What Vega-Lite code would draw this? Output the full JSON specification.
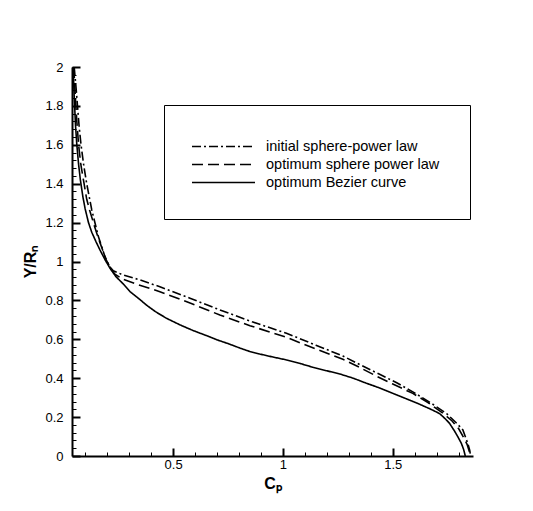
{
  "$schema": "https://vega.github.io/schema/vega-lite/v6.json",
  "autosize": {"type": "none"},
  "padding": {"left": 72, "top": 67, "right": 60, "bottom": 55},
  "width": 401,
  "height": 389,
  "background": "white",
  "config": {
    "view": {"stroke": null},
    "font": "Liberation Sans",
    "axis": {"grid": false, "domainColor": "black", "tickColor": "black", "labelColor": "black", "titleColor": "black"}
  },
  "datasets": {
    "curves": [
      {"s": "initial sphere-power law", "i": 1, "x": 0.05, "y": 2.0},
      {"s": "initial sphere-power law", "i": 2, "x": 0.058, "y": 1.9},
      {"s": "initial sphere-power law", "i": 3, "x": 0.065, "y": 1.8},
      {"s": "initial sphere-power law", "i": 4, "x": 0.072, "y": 1.7},
      {"s": "initial sphere-power law", "i": 5, "x": 0.081, "y": 1.6},
      {"s": "initial sphere-power law", "i": 6, "x": 0.094, "y": 1.49},
      {"s": "initial sphere-power law", "i": 7, "x": 0.107, "y": 1.40},
      {"s": "initial sphere-power law", "i": 8, "x": 0.13, "y": 1.265},
      {"s": "initial sphere-power law", "i": 9, "x": 0.16, "y": 1.128},
      {"s": "initial sphere-power law", "i": 10, "x": 0.19, "y": 1.025},
      {"s": "initial sphere-power law", "i": 11, "x": 0.21, "y": 0.975},
      {"s": "initial sphere-power law", "i": 12, "x": 0.228, "y": 0.952},
      {"s": "initial sphere-power law", "i": 13, "x": 0.273, "y": 0.931},
      {"s": "initial sphere-power law", "i": 14, "x": 0.35, "y": 0.905},
      {"s": "initial sphere-power law", "i": 15, "x": 0.44, "y": 0.870},
      {"s": "initial sphere-power law", "i": 16, "x": 0.58, "y": 0.81},
      {"s": "initial sphere-power law", "i": 17, "x": 0.713, "y": 0.751},
      {"s": "initial sphere-power law", "i": 18, "x": 0.86, "y": 0.69},
      {"s": "initial sphere-power law", "i": 19, "x": 1.016, "y": 0.631},
      {"s": "initial sphere-power law", "i": 20, "x": 1.15, "y": 0.57},
      {"s": "initial sphere-power law", "i": 21, "x": 1.273, "y": 0.514},
      {"s": "initial sphere-power law", "i": 22, "x": 1.35, "y": 0.47},
      {"s": "initial sphere-power law", "i": 23, "x": 1.44, "y": 0.42},
      {"s": "initial sphere-power law", "i": 24, "x": 1.52, "y": 0.375},
      {"s": "initial sphere-power law", "i": 25, "x": 1.591, "y": 0.33},
      {"s": "initial sphere-power law", "i": 26, "x": 1.67, "y": 0.275},
      {"s": "initial sphere-power law", "i": 27, "x": 1.743, "y": 0.22},
      {"s": "initial sphere-power law", "i": 28, "x": 1.785, "y": 0.175},
      {"s": "initial sphere-power law", "i": 29, "x": 1.819, "y": 0.134},
      {"s": "initial sphere-power law", "i": 30, "x": 1.841, "y": 0.065},
      {"s": "initial sphere-power law", "i": 31, "x": 1.85, "y": 0.03},
      {"s": "initial sphere-power law", "i": 32, "x": 1.854, "y": 0.0},
      {"s": "optimum sphere power law", "i": 1, "x": 0.048, "y": 2.0},
      {"s": "optimum sphere power law", "i": 2, "x": 0.055, "y": 1.85},
      {"s": "optimum sphere power law", "i": 3, "x": 0.062, "y": 1.72},
      {"s": "optimum sphere power law", "i": 4, "x": 0.07, "y": 1.6},
      {"s": "optimum sphere power law", "i": 5, "x": 0.08, "y": 1.5},
      {"s": "optimum sphere power law", "i": 6, "x": 0.095, "y": 1.4},
      {"s": "optimum sphere power law", "i": 7, "x": 0.107, "y": 1.32},
      {"s": "optimum sphere power law", "i": 8, "x": 0.12, "y": 1.265},
      {"s": "optimum sphere power law", "i": 9, "x": 0.14, "y": 1.19},
      {"s": "optimum sphere power law", "i": 10, "x": 0.16, "y": 1.12},
      {"s": "optimum sphere power law", "i": 11, "x": 0.179, "y": 1.06},
      {"s": "optimum sphere power law", "i": 12, "x": 0.195, "y": 1.01},
      {"s": "optimum sphere power law", "i": 13, "x": 0.213, "y": 0.97},
      {"s": "optimum sphere power law", "i": 14, "x": 0.235, "y": 0.935},
      {"s": "optimum sphere power law", "i": 15, "x": 0.273, "y": 0.908},
      {"s": "optimum sphere power law", "i": 16, "x": 0.33, "y": 0.885},
      {"s": "optimum sphere power law", "i": 17, "x": 0.44, "y": 0.845},
      {"s": "optimum sphere power law", "i": 18, "x": 0.58, "y": 0.785},
      {"s": "optimum sphere power law", "i": 19, "x": 0.713, "y": 0.725},
      {"s": "optimum sphere power law", "i": 20, "x": 0.85, "y": 0.67},
      {"s": "optimum sphere power law", "i": 21, "x": 1.016, "y": 0.61},
      {"s": "optimum sphere power law", "i": 22, "x": 1.15, "y": 0.55},
      {"s": "optimum sphere power law", "i": 23, "x": 1.273, "y": 0.497},
      {"s": "optimum sphere power law", "i": 24, "x": 1.35, "y": 0.455},
      {"s": "optimum sphere power law", "i": 25, "x": 1.425, "y": 0.411},
      {"s": "optimum sphere power law", "i": 26, "x": 1.5, "y": 0.37},
      {"s": "optimum sphere power law", "i": 27, "x": 1.591, "y": 0.322},
      {"s": "optimum sphere power law", "i": 28, "x": 1.66, "y": 0.275},
      {"s": "optimum sphere power law", "i": 29, "x": 1.728, "y": 0.22},
      {"s": "optimum sphere power law", "i": 30, "x": 1.77, "y": 0.18},
      {"s": "optimum sphere power law", "i": 31, "x": 1.8, "y": 0.14},
      {"s": "optimum sphere power law", "i": 32, "x": 1.82, "y": 0.1},
      {"s": "optimum sphere power law", "i": 33, "x": 1.838, "y": 0.06},
      {"s": "optimum sphere power law", "i": 34, "x": 1.848, "y": 0.025},
      {"s": "optimum sphere power law", "i": 35, "x": 1.852, "y": 0.0},
      {"s": "optimum Bezier curve", "i": 1, "x": 0.045, "y": 2.0},
      {"s": "optimum Bezier curve", "i": 2, "x": 0.05, "y": 1.85},
      {"s": "optimum Bezier curve", "i": 3, "x": 0.056, "y": 1.7},
      {"s": "optimum Bezier curve", "i": 4, "x": 0.062, "y": 1.6},
      {"s": "optimum Bezier curve", "i": 5, "x": 0.07, "y": 1.5},
      {"s": "optimum Bezier curve", "i": 6, "x": 0.078, "y": 1.42},
      {"s": "optimum Bezier curve", "i": 7, "x": 0.09, "y": 1.33},
      {"s": "optimum Bezier curve", "i": 8, "x": 0.1, "y": 1.27},
      {"s": "optimum Bezier curve", "i": 9, "x": 0.115, "y": 1.2},
      {"s": "optimum Bezier curve", "i": 10, "x": 0.13, "y": 1.15},
      {"s": "optimum Bezier curve", "i": 11, "x": 0.15, "y": 1.1},
      {"s": "optimum Bezier curve", "i": 12, "x": 0.167, "y": 1.06},
      {"s": "optimum Bezier curve", "i": 13, "x": 0.19, "y": 1.01},
      {"s": "optimum Bezier curve", "i": 14, "x": 0.213, "y": 0.965},
      {"s": "optimum Bezier curve", "i": 15, "x": 0.24, "y": 0.922},
      {"s": "optimum Bezier curve", "i": 16, "x": 0.273, "y": 0.885},
      {"s": "optimum Bezier curve", "i": 17, "x": 0.304, "y": 0.845},
      {"s": "optimum Bezier curve", "i": 18, "x": 0.341, "y": 0.812},
      {"s": "optimum Bezier curve", "i": 19, "x": 0.38, "y": 0.775},
      {"s": "optimum Bezier curve", "i": 20, "x": 0.42, "y": 0.742},
      {"s": "optimum Bezier curve", "i": 21, "x": 0.47, "y": 0.708},
      {"s": "optimum Bezier curve", "i": 22, "x": 0.53, "y": 0.675},
      {"s": "optimum Bezier curve", "i": 23, "x": 0.591, "y": 0.645},
      {"s": "optimum Bezier curve", "i": 24, "x": 0.65, "y": 0.62},
      {"s": "optimum Bezier curve", "i": 25, "x": 0.698, "y": 0.598},
      {"s": "optimum Bezier curve", "i": 26, "x": 0.75, "y": 0.578},
      {"s": "optimum Bezier curve", "i": 27, "x": 0.804, "y": 0.555},
      {"s": "optimum Bezier curve", "i": 28, "x": 0.85, "y": 0.537},
      {"s": "optimum Bezier curve", "i": 29, "x": 0.895, "y": 0.524},
      {"s": "optimum Bezier curve", "i": 30, "x": 0.95, "y": 0.51},
      {"s": "optimum Bezier curve", "i": 31, "x": 1.016, "y": 0.494},
      {"s": "optimum Bezier curve", "i": 32, "x": 1.08, "y": 0.475},
      {"s": "optimum Bezier curve", "i": 33, "x": 1.137, "y": 0.456},
      {"s": "optimum Bezier curve", "i": 34, "x": 1.2, "y": 0.438},
      {"s": "optimum Bezier curve", "i": 35, "x": 1.258, "y": 0.422},
      {"s": "optimum Bezier curve", "i": 36, "x": 1.32, "y": 0.4},
      {"s": "optimum Bezier curve", "i": 37, "x": 1.38, "y": 0.374},
      {"s": "optimum Bezier curve", "i": 38, "x": 1.44, "y": 0.35},
      {"s": "optimum Bezier curve", "i": 39, "x": 1.5, "y": 0.322},
      {"s": "optimum Bezier curve", "i": 40, "x": 1.56, "y": 0.295},
      {"s": "optimum Bezier curve", "i": 41, "x": 1.62, "y": 0.267},
      {"s": "optimum Bezier curve", "i": 42, "x": 1.67, "y": 0.242},
      {"s": "optimum Bezier curve", "i": 43, "x": 1.713, "y": 0.218},
      {"s": "optimum Bezier curve", "i": 44, "x": 1.74, "y": 0.19},
      {"s": "optimum Bezier curve", "i": 45, "x": 1.758, "y": 0.168},
      {"s": "optimum Bezier curve", "i": 46, "x": 1.78, "y": 0.13},
      {"s": "optimum Bezier curve", "i": 47, "x": 1.796, "y": 0.099},
      {"s": "optimum Bezier curve", "i": 48, "x": 1.812, "y": 0.065},
      {"s": "optimum Bezier curve", "i": 49, "x": 1.822, "y": 0.035},
      {"s": "optimum Bezier curve", "i": 50, "x": 1.83, "y": 0.0}
    ]
  },
  "data": {"name": "curves"},
  "resolve": {"axis": {"x": "independent", "y": "independent"}},
  "layer": [
    {
      "mark": {"type": "line", "stroke": "black", "strokeWidth": 1.6, "clip": true},
      "encoding": {
        "x": {"field": "x", "type": "quantitative",
              "scale": {"domain": [0.04, 1.865], "nice": false, "zero": false},
              "axis": {"orient": "bottom", "values": [0.5, 1, 1.5], "labelExpr": "'' + datum.value",
                       "title": "Cₚ", "titleFontSize": 16, "titleFontWeight": "bold", "titlePadding": 4,
                       "labelFontSize": 13, "labelPadding": 10, "tickSize": -8, "tickWidth": 2, "domainWidth": 2}},
        "y": {"field": "y", "type": "quantitative",
              "scale": {"domain": [0, 2], "nice": false},
              "axis": {"orient": "left", "values": [0, 0.2, 0.4, 0.6, 0.8, 1, 1.2, 1.4, 1.6, 1.8, 2], "labelExpr": "'' + datum.value",
                       "title": "Y/Rₙ", "titleFontSize": 16, "titleFontWeight": "bold", "titlePadding": 6,
                       "labelFontSize": 13, "labelPadding": 17, "tickSize": -8, "tickWidth": 2, "domainWidth": 2}},
        "strokeDash": {"field": "s", "type": "nominal",
                       "scale": {"domain": ["initial sphere-power law", "optimum sphere power law", "optimum Bezier curve"],
                                 "range": [[9, 3, 2, 3], [11, 5], [1, 0]]},
                       "legend": {"title": null,
                                  "orient": "none", "legendX": 92, "legendY": 38,
                                  "strokeColor": "black", "fillColor": "white", "padding": 30,
                                  "symbolType": "M-3,0H3", "symbolSize": 441, "symbolOffset": 18, "symbolStrokeWidth": 1.6, "symbolStrokeColor": "black", "symbolFillColor": "transparent",
                                  "labelFontSize": 14.5, "labelColor": "black", "labelOffset": 31, "rowPadding": -3, "labelLimit": 300}},
        "order": {"field": "i", "type": "quantitative"}
      }
    },
    {
      "mark": {"type": "line", "strokeOpacity": 0},
      "encoding": {
        "x": {"field": "x", "type": "quantitative",
              "axis": {"orient": "bottom", "values": [0.1, 0.2, 0.3, 0.4, 0.6, 0.7, 0.8, 0.9, 1.1, 1.2, 1.3, 1.4, 1.6, 1.7, 1.8],
                       "labels": false, "domain": false, "title": null, "tickSize": -4, "tickWidth": 1}},
        "y": {"field": "y", "type": "quantitative",
              "axis": {"orient": "left", "values": [0.04, 0.08, 0.12, 0.16, 0.24, 0.28, 0.32, 0.36, 0.44, 0.48, 0.52, 0.56, 0.64, 0.68, 0.72, 0.76, 0.84, 0.88, 0.92, 0.96, 1.04, 1.08, 1.12, 1.16, 1.24, 1.28, 1.32, 1.36, 1.44, 1.48, 1.52, 1.56, 1.64, 1.68, 1.72, 1.76, 1.84, 1.88, 1.92, 1.96],
                       "labels": false, "domain": false, "title": null, "tickSize": -4, "tickWidth": 1}},
        "order": {"field": "i", "type": "quantitative"}
      }
    }
  ]
}
